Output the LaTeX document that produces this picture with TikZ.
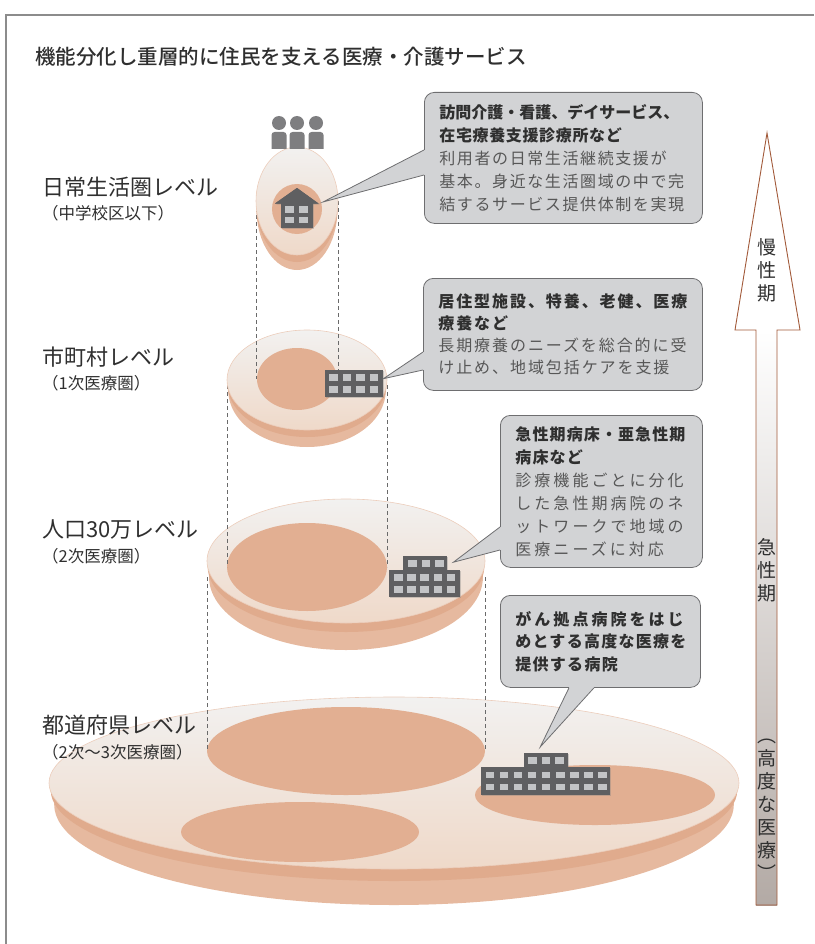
\documentclass[tikz,border=0pt]{standalone}
\usepackage{fontspec}
\setmainfont{Noto Sans CJK JP}
\newfontfamily\medfont{Noto Sans CJK JP Medium}
\usetikzlibrary{positioning,calc,shadows}

\definecolor{facetop}{HTML}{F2F1F0}
\definecolor{facebot}{HTML}{EFD9C9}
\definecolor{rimmid}{HTML}{E0AB8D}
\definecolor{rimlow}{HTML}{E6B99F}
\definecolor{patch}{HTML}{E2AF92}
\definecolor{bldgray}{HTML}{5F5F61}
\definecolor{wingray}{HTML}{C3C4C6}
\definecolor{figgray}{HTML}{7E7E80}
\definecolor{callfill}{HTML}{D2D3D5}
\definecolor{callline}{HTML}{6E6E70}
\definecolor{arrline}{HTML}{A25A3A}
\definecolor{arrlow}{HTML}{B3AAA5}
\definecolor{dashgray}{HTML}{6A6A6A}
\definecolor{framegray}{HTML}{8C8C8C}
\definecolor{txt}{HTML}{2F2F2F}
\definecolor{bodytxt}{HTML}{575757}

% disc: centre x, centre y, x radius, y radius, middle rim depth, lower rim depth
% (the rims sag like a bowl: thin at the sides, deepest at the bottom)
\newcommand{\platter}[6]{%
  \fill[rimlow] (#1,#2+0.6*#6) ellipse [x radius=0.985*#3, y radius=#4+0.4*#6];
  \fill[rimmid] (#1,#2+0.6*#5) ellipse [x radius=0.995*#3, y radius=#4+0.4*#5];
  \shadedraw[top color=facetop, bottom color=facebot, draw=rimmid!60, line width=0.6pt]
    (#1,#2) ellipse [x radius=#3, y radius=#4];
}
% callout heading / body lines
\newcommand{\hd}[2][4]{\textcolor{txt}{\bfseries\addfontfeature{LetterSpace=#1}#2}}
\newcommand{\bd}[2][10]{{\addfontfeature{LetterSpace=#1}#2}}
% tail of a callout: base point, base point, tip
\newcommand{\calltail}[3]{%
  \fill[callfill] (#1) -- (#3) -- (#2) -- cycle;
  \draw[callfill, line width=1.4pt] (#1) -- (#2);
  \draw[callline, line width=0.8pt] (#1) -- (#3) -- (#2);
}

\begin{document}
\begin{tikzpicture}[x=1pt, y=-1pt,
  lvl/.style={anchor=west, inner sep=0pt, text=txt, font=\fontsize{22}{26}\selectfont},
  sublvl/.style={anchor=west, inner sep=0pt, text=txt, font=\fontsize{16.5}{20}\selectfont},
  callbox/.style={draw=callline, fill=callfill, line width=0.8pt, rounded corners=10pt,
    anchor=north west, inner xsep=15pt, inner ysep=0pt, align=left, text=bodytxt,
    font=\fontsize{16}{23}\selectfont},
  bldg/.style={fill=bldgray, anchor=north west, inner sep=0pt,
    drop shadow={opacity=0.35, shadow xshift=1.2pt, shadow yshift=-1.2pt}},
  vtext/.style={align=center, inner sep=0pt, text=txt, font=\fontsize{19}{23}\selectfont},
  dashline/.style={dash pattern=on 4pt off 3pt, line width=0.9pt, draw=dashgray}]

\useasboundingbox (0,0) rectangle (814,944);
\draw[framegray, line width=1.5pt] (6,944) -- (6,15) -- (814,15);

\node[anchor=west, inner sep=0pt, text=txt, font=\medfont\fontsize{20.5}{24}\selectfont] (title)
  at (35,57) {機能分化し重層的に住民を支える医療・介護サービス};

% prefecture level
\platter{394}{783}{345}{86}{12}{36}
\fill[patch] (346,751) ellipse [x radius=139, y radius=44];
\fill[patch] (300,832) ellipse [x radius=119, y radius=30];
\fill[patch] (595,795) ellipse [x radius=120, y radius=30];
\draw[dashline] (207,577) -- (207,751);
\draw[dashline] (485,577) -- (485,751);

% secondary area
\platter{346}{561}{139}{62}{9}{27}
\fill[patch] (307,567) ellipse [x radius=80, y radius=44];
\draw[dashline] (227,385) -- (227,567);
\draw[dashline] (387,385) -- (387,567);

% municipality
\platter{307}{380}{80}{50}{7}{17}
\fill[patch] (297,379) ellipse [x radius=40, y radius=31];
\draw[dashline] (256,201) -- (256,379);
\draw[dashline] (338,201) -- (338,379);

% daily life area
\platter{297}{201}{41}{54}{7}{15}
\fill[patch] (297,209) circle [radius=25];

% residents
\foreach \px in {279,297,316} {
  \fill[figgray] (\px,123) circle [radius=7];
  \fill[figgray] (\px-7.5,149) [rounded corners=3pt] -- (\px-7.5,132) -- (\px+7.5,132)
    [sharp corners] -- (\px+7.5,149) -- cycle;
}

% home
\fill[bldgray, drop shadow={opacity=0.35, shadow xshift=1.2pt, shadow yshift=-1.2pt}]
  (275,203.5) -- (297,188) -- (318.5,203.5) -- cycle;
\node[bldg, minimum width=32pt, minimum height=25pt] (house) at (281,203) {};
\fill[bldgray] (275,203.5) -- (297,188) -- (318.5,203.5) -- cycle;
\foreach \i in {0,1} \foreach \j in {0,1}
  \fill[wingray] ($(house.north west)+(4+14*\i,3+10.7*\j)$) rectangle +(8.5,6.7);

% care facility
\node[bldg, minimum width=58pt, minimum height=27pt] (bld2) at (325,370) {};
\foreach \i in {0,...,3} \foreach \j in {0,1}
  \fill[wingray] ($(bld2.north west)+(4.3+13.5*\i,4+12*\j)$) rectangle +(8.4,6.7);

% acute hospital
\node[bldg, minimum width=44pt, minimum height=14pt] (bld3top) at (403,556) {};
\node[bldg, minimum width=71pt, minimum height=27pt] (bld3) at (389,570) {};
\foreach \i in {0,...,2}
  \fill[wingray] ($(bld3top.north west)+(5+13.5*\i,4)$) rectangle +(8.5,7);
\foreach \i in {0,...,4} \foreach \j in {0,1}
  \fill[wingray] ($(bld3.north west)+(5+13.2*\i,4+12*\j)$) rectangle +(8.5,7);

% advanced hospital
\node[bldg, minimum width=44pt, minimum height=14pt] (bld4top) at (524,753) {};
\node[bldg, minimum width=129pt, minimum height=28pt] (bld4) at (481,767) {};
\foreach \i in {0,...,2}
  \fill[wingray] ($(bld4top.north west)+(4+13.5*\i,4)$) rectangle +(8.5,6.5);
\foreach \i in {0,...,8} \foreach \j in {0,1}
  \fill[wingray] ($(bld4.north west)+(4.5+14.1*\i,4.5+12*\j)$) rectangle +(8.5,6.5);

% level names
\node[lvl] (lv1) at (42,187) {日常生活圏レベル};
\node[sublvl] (lv1s) at (42,213) {（中学校区以下）};
\node[lvl] (lv2) at (42,357) {市町村レベル};
\node[sublvl] (lv2s) at (42,383) {（1次医療圏）};
\node[lvl] (lv3) at (42,529) {人口30万レベル};
\node[sublvl] (lv3s) at (42,556) {（2次医療圏）};
\node[lvl] (lv4) at (42,725) {都道府県レベル};
\node[sublvl] (lv4s) at (42,752) {（2次〜3次医療圏）};

% callouts
\node[callbox, text width=248pt, minimum height=131pt] (c1) at (424,92)
  {\hd[0]{訪問介護・看護、デイサービス、}\\\hd{在宅療養支援診療所など}\\
   \bd{利用者の日常生活継続支援が}\\\bd{基本。身近な生活圏域の中で完}\\
   \bd{結するサービス提供体制を実現}};
\coordinate (c1a) at ($(c1.north west)+(0,58)$);
\coordinate (c1b) at ($(c1.north west)+(0,83)$);
\coordinate (t1) at (323,202);
\calltail{c1a}{c1b}{t1}

\node[callbox, text width=249pt, minimum height=112pt, font=\fontsize{16}{22}\selectfont] (c2) at (423,278)
  {\hd[12]{居住型施設、特養、老健、医療}\\\hd[12]{療養など}\\
   \bd[12]{長期療養のニーズを総合的に受}\\\bd[12]{け止め、地域包括ケアを支援}};
\coordinate (c2a) at ($(c2.north west)+(0,74)$);
\coordinate (c2b) at ($(c2.north west)+(0,92)$);
\coordinate (t2) at ($(bld2.east)+(0,-5)$);
\calltail{c2a}{c2b}{t2}

\node[callbox, text width=172pt, minimum height=152pt] (c3) at (500,415)
  {\hd[7]{急性期病床・亜急性期}\\\hd[7]{病床など}\\
   \bd[19]{診療機能ごとに分化}\\\bd[19]{した急性期病院のネ}\\
   \bd[19]{ットワークで地域の}\\\bd[19]{医療ニーズに対応}};
\coordinate (c3a) at ($(c3.north west)+(0,112)$);
\coordinate (c3b) at ($(c3.north west)+(0,135)$);
\coordinate (t3) at ($(bld3top.east)+(6,-1)$);
\calltail{c3a}{c3b}{t3}

\node[callbox, text width=170pt, minimum height=92pt, font=\fontsize{16}{22.5}\selectfont] (c4) at (500,595)
  {\hd[19]{がん拠点病院をはじ}\\\hd[8]{めとする高度な医療を}\\\hd[8]{提供する病院}};
\coordinate (c4a) at ($(c4.south west)+(69,0)$);
\coordinate (c4b) at ($(c4.south west)+(94,0)$);
\coordinate (t4) at ($(bld4top.north)+(-6,-6)$);
\calltail{c4a}{c4b}{t4}

% care phase arrow
\fill[white] (735,330) -- (767,133) -- (800,330) -- cycle;
\shade[top color=white, bottom color=arrlow] (756,330) rectangle (777,905);
\draw[arrline, line width=0.9pt] (756,905) -- (756,330) -- (735,330) -- (767,133)
  -- (800,330) -- (777,330) -- (777,905) -- cycle;
\node[vtext] (chronic) at (767,270) {慢\\性\\期};
\node[vtext] (acute) at (767,570) {急\\性\\期};
\node[vtext] (advanced) at (767,810) {︵\\高\\度\\な\\医\\療\\︶};

\end{tikzpicture}
\end{document}
